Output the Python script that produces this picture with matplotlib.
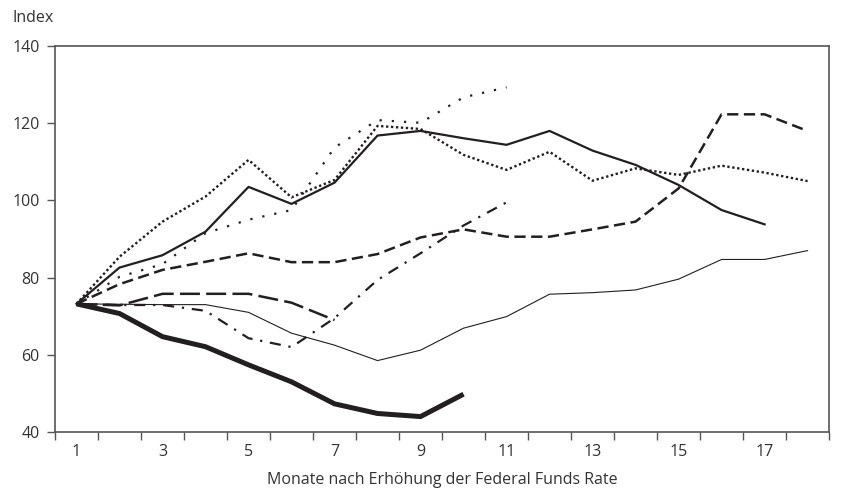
import matplotlib
matplotlib.use("Agg")
import matplotlib.pyplot as plt
import numpy as np

plt.rcParams['font.family'] = ['Open Sans', 'DejaVu Sans']

months = list(range(1, 19))
tick_labels = ["1", "3", "5", "7", "9", "11", "13", "15", "17"]

# series values (index), by month
thick_solid = [73.2, 70.7, 64.7, 62.1, 57.4, 53.0, 47.3, 44.8, 44.0, 49.8]
thin_solid = [73.2, 73.1, 73.0, 73.0, 71.0, 65.6, 62.5, 58.5, 61.2, 66.9, 69.9, 75.7, 76.1, 76.8, 79.6, 84.7, 84.7, 87.0]
long_dash = [73.2, 72.8, 75.8, 75.8, 75.8, 73.5, 69.0]
dash_dot = [73.2, 72.9, 72.9, 71.4, 64.3, 62.0, 69.5, 79.4, 86.3, 93.5, 99.5]
med_dash = [73.2, 78.3, 82.0, 84.1, 86.3, 84.0, 84.0, 86.1, 90.4, 92.5, 90.6, 90.6, 92.5, 94.5, 103.1, 122.3, 122.3, 118.0]
solid = [73.2, 82.6, 85.8, 91.9, 103.5, 99.1, 104.6, 116.8, 118.0, 116.1, 114.4, 118.0, 112.9, 109.2, 104.0, 97.5, 93.8]
sparse_dot = [73.2, 80.2, 83.5, 91.5, 95.0, 97.5, 113.7, 120.8, 120.1, 126.7, 129.3]
dense_dot = [73.2, 85.4, 94.5, 101.0, 110.5, 100.8, 105.3, 119.3, 118.5, 111.8, 107.9, 112.6, 105.1, 108.3, 106.6, 109.0, 107.2, 105.0]

fig = plt.figure(figsize=(8.46, 4.93), dpi=100)
ax = fig.add_axes([0.065, 0.1237, 0.915, 0.783])

c = "#231f20"
tc = "#333333"
def x_of(v):
    return months[:len(v)]

ax.plot(x_of(thick_solid), thick_solid, color=c, lw=3.6, solid_capstyle='butt')
ax.plot(x_of(thin_solid), thin_solid, color=c, lw=0.8)
ax.plot(x_of(long_dash), long_dash, color=c, lw=1.8, dashes=(8, 2.5))
ax.plot(x_of(dash_dot), dash_dot, color=c, lw=1.6, dashes=(5, 3.5, 1, 3.5))
ax.plot(x_of(med_dash), med_dash, color=c, lw=1.8, dashes=(4.5, 2.2))
ax.plot(x_of(solid), solid, color=c, lw=1.6)
ax.plot(x_of(sparse_dot), sparse_dot, color=c, lw=1.6, dashes=(1, 4.5))
ax.plot(x_of(dense_dot), dense_dot, color=c, lw=1.7, dashes=(1, 1.1))

ax.set_xlim(0.5, 18.5)
ax.set_ylim(40, 140)
ax.set_yticks([40, 60, 80, 100, 120, 140])
ax.set_xticks(np.arange(0.5, 19, 1.0))
ax.set_xticklabels([])
ax.set_xticks([1, 3, 5, 7, 9, 11, 13, 15, 17], minor=True)
ax.set_xticklabels(tick_labels, minor=True)
ax.tick_params(axis='x', which='major', length=6, width=1, color='#555555', direction='out')
ax.tick_params(axis='x', which='minor', length=0, labelsize=11.5, pad=8.5, labelcolor=tc)
ax.tick_params(axis='y', length=6, width=1, color='#555555', labelsize=11.5, labelcolor=tc, pad=5)
for s in ax.spines.values():
    s.set_color('#555555')
    s.set_linewidth(1.2)

ax.set_xlabel("Monate nach Erhöhung der Federal Funds Rate", fontsize=11.5, color=tc, labelpad=8.5)
fig.text(12/846, 1 - 18/493, "Index", fontsize=11.5, color=tc, va='center', ha='left')

fig.savefig("out.png", dpi=100)
